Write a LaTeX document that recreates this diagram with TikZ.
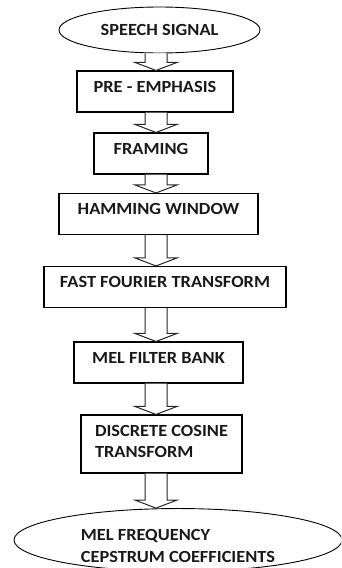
\documentclass[tikz,border=0pt]{standalone}
\usepackage{fontspec}
\setmainfont[FakeStretch=1.08,BoldFont=Carlito Bold]{Carlito}
\usetikzlibrary{shapes.geometric,calc}

\tikzset{
  flowtext/.style={font=\fontsize{17}{21.5}\selectfont\bfseries, text=black!90},
  procbox/.style={flowtext, draw, line width=1.1pt, inner xsep=0pt, inner ysep=10pt,
    text height=11pt, text depth=10pt},
  termellipse/.style={flowtext, draw, ellipse, line width=0.9pt, inner sep=0pt},
  blockarrow/.style={draw=black!85, line width=1pt, fill=white},
}
%% hollow block arrow from #1 down to #2, on the column (col)
\newcommand{\blockarrow}[2]{%
  \draw[blockarrow] let \p1=(#1.south -| col), \p2=(#2.north -| col) in
    (\x1-11pt,\y1) -- (\x1-11pt,\y2+8pt) -- (\x1-21pt,\y2+8pt) -- (\x1,\y2)
    -- (\x1+21pt,\y2+8pt) -- (\x1+11pt,\y2+8pt) -- (\x1+11pt,\y1);}

\begin{document}
\begin{tikzpicture}[x=1pt,y=-1pt]
  \clip (0,0) rectangle (341,568);
  %% column of the arrows
  \coordinate (col) at (156,0);
  %% blocks
  \node[termellipse, minimum width=201pt, minimum height=46pt] (speech) at (159.5,30) {SPEECH SIGNAL};
  \node[procbox, minimum width=156pt] (preemph) at (155,91.5) {PRE - EMPHASIS};
  \node[procbox, minimum width=114pt] (framing) at (151,153.5) {FRAMING};
  \node[procbox, minimum width=199pt] (hamming) at (158.5,214) {HAMMING WINDOW};
  \node[procbox, minimum width=242pt] (fft) at (165,287) {FAST FOURIER TRANSFORM};
  \node[procbox, minimum width=169pt] (melbank) at (158.5,362.5) {MEL FILTER BANK};
  \node[procbox, align=left, text height=27.5pt, text depth=0pt, minimum width=161pt, minimum height=58pt] (dct) at (161.5,444)
    {DISCRETE COSINE\\TRANSFORM};
  \node[termellipse, align=left, text height=44.5pt, text depth=0pt, minimum width=328pt, minimum height=62pt] (mfcc) at (178,540)
    {MEL FREQUENCY\\CEPSTRUM COEFFICIENTS};
  %% arrows
  \blockarrow{speech}{preemph}
  \blockarrow{preemph}{framing}
  \blockarrow{framing}{hamming}
  \blockarrow{hamming}{fft}
  \blockarrow{fft}{melbank}
  \blockarrow{melbank}{dct}
  \blockarrow{dct}{mfcc}
\end{tikzpicture}
\end{document}
